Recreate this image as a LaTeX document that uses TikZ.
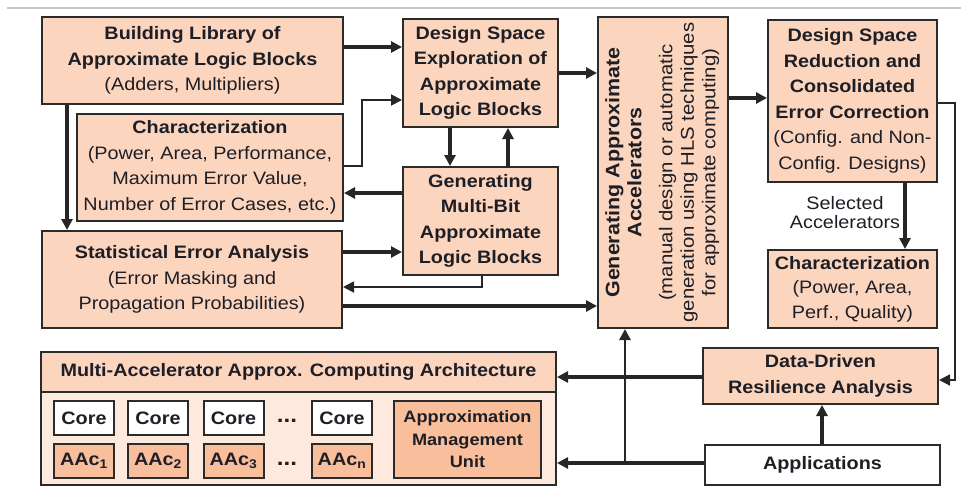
\documentclass[tikz,border=0pt]{standalone}
\usepackage{fontspec}
\setmainfont{Liberation Sans}[FakeStretch=1.1]
\usetikzlibrary{arrows.meta}
\definecolor{peach}{HTML}{FCD5BE}
\definecolor{peachlight}{HTML}{FDE9DE}
\definecolor{peachdark}{HTML}{F9BE9B}
\definecolor{edge}{HTML}{2B2B2B}
\definecolor{txt}{HTML}{1E1E26}
\definecolor{lnk}{HTML}{262626}
\begin{document}
\begin{tikzpicture}[x=1pt,y=-1pt,
  box/.style={draw=edge, line width=2pt, fill=peach, align=center, inner sep=0pt,
    text=txt, font=\fontsize{18}{25.5}\selectfont},
  corebox/.style={box, fill=white, minimum width=60, minimum height=34},
  aacbox/.style={box, fill=peachdark, minimum width=60, minimum height=34},
  arr/.style={line width=3.5pt, draw=lnk, -{Triangle[length=11pt,width=11pt]}},
  thinarr/.style={line width=1.8pt, draw=lnk, -{Triangle[length=11pt,width=11pt]}},
  lbl/.style={align=center, inner sep=0pt, text=txt, font=\fontsize{18}{19}\selectfont},
  dots/.style={inner sep=0pt, text=txt, font=\fontsize{22}{22}\selectfont\bfseries},
  topline/.style={draw=black!22, line width=2pt}]
\useasboundingbox (0,0) rectangle (961,487);
\draw[topline] (7,8) -- (961,8);

% left column
\node[box, minimum width=301, minimum height=87] (bl) at (192.5,60.5)
  {\textbf{Building Library of}\\\textbf{Approximate Logic Blocks}\\(Adders, Multipliers)};
\node[box, minimum width=266, minimum height=107] (charl) at (210,167.5)
  {\textbf{Characterization}\\(Power, Area, Performance,\\Maximum Error Value,\\Number of Error Cases, etc.)};
\node[box, minimum width=300, minimum height=97] (stat) at (192,279.5)
  {\textbf{Statistical Error Analysis}\\(Error Masking and\\Propagation Probabilities)};

% middle column
\node[box, minimum width=155, minimum height=108] (dse) at (480.5,73)
  {\textbf{Design Space}\\\textbf{Exploration of}\\\textbf{Approximate}\\\textbf{Logic Blocks}};
\node[box, minimum width=155, minimum height=108] (gmb) at (480.5,221)
  {\textbf{Generating}\\\textbf{Multi-Bit}\\\textbf{Approximate}\\\textbf{Logic Blocks}};

% tall box
\node[box, minimum width=130, minimum height=311] (tall) at (663,172.5)
  {\fontsize{18}{21.5}\selectfont\rotatebox{90}{\begin{tabular}{@{}c@{}}
   {\fontsize{19.5}{22}\selectfont\bfseries Generating Approximate}\\[0.5pt]
   {\fontsize{19.5}{22}\selectfont\bfseries Accelerators}\\[9.5pt]
   {\fontsize{18.5}{21.5}\selectfont (manual design or automatic}\\
   {\fontsize{18.5}{21.5}\selectfont generation using HLS techniques}\\
   {\fontsize{18.5}{21.5}\selectfont for approximate computing)}
  \end{tabular}}};

% right column
\node[box, minimum width=169, minimum height=162] (dsr) at (852.5,101)
  {\textbf{Design Space}\\\textbf{Reduction and}\\\textbf{Consolidated}\\\textbf{Error Correction}\\(Config. and Non-\\Config. Designs)};
\node[box, minimum width=169, minimum height=78, font=\fontsize{18}{24.5}\selectfont] (charr) at (852.5,289)
  {\textbf{Characterization}\\(Power, Area,\\Perf., Quality)};
\node[box, minimum width=235, minimum height=56] (dd) at (820.5,376)
  {\textbf{Data-Driven}\\\textbf{Resilience Analysis}};
\node[box, fill=white, minimum width=235, minimum height=40] (apps) at (822.5,465)
  {\textbf{Applications}};

% multi-accelerator architecture
\node[draw=edge, line width=2pt, fill=peachlight, minimum width=515, minimum height=133, inner sep=0pt] (ma) at (298.5,418.5) {};
\node[box, minimum width=515, minimum height=40] (mah) at (298.5,372)
  {\textbf{Multi-Accelerator Approx. Computing Architecture}};
\node[corebox] (c1) at (84,418) {\textbf{Core}};
\node[corebox] (c2) at (158,418) {\textbf{Core}};
\node[corebox] (c3) at (233.5,418) {\textbf{Core}};
\node[corebox] (c4) at (342,418) {\textbf{Core}};
\node[aacbox] (a1) at (84,461) {\textbf{AAc\textsubscript{1}}};
\node[aacbox] (a2) at (158,461) {\textbf{AAc\textsubscript{2}}};
\node[aacbox] (a3) at (233.5,461) {\textbf{AAc\textsubscript{3}}};
\node[aacbox] (a4) at (342,461) {\textbf{AAc\textsubscript{n}}};
\node[dots] (d1) at (287,421) {...};
\node[dots] (d2) at (287,464) {...};
\node[box, fill=peachdark, minimum width=147, minimum height=77, font=\fontsize{16.5}{22.5}\selectfont] (amu) at (467.5,439.5)
  {\textbf{Approximation}\\\textbf{Management}\\\textbf{Unit}};

% connectors
\draw[arr] (bl.east |- 0,47) -- (dse.west |- 0,47);
\draw[thinarr] (charl.east |- 0,166) -- (362,166) -- (362,100) -- (dse.west |- 0,100);
\draw[arr] (bl.south -| 67,0) -- (stat.north -| 67,0);
\draw[arr] (dse.south -| 450,0) -- (gmb.north -| 450,0);
\draw[arr] (gmb.north -| 508,0) -- (dse.south -| 508,0);
\draw[arr] (gmb.west |- 0,193) -- (charl.east |- 0,193);
\draw[arr] (stat.east |- 0,252) -- (gmb.west |- 0,252);
\draw[thinarr] (gmb.south -| 482,0) -- (482,287) -- (stat.east |- 0,287);
\draw[arr] (stat.east |- 0,306) -- (tall.west |- 0,306);
\draw[arr] (dse.east |- 0,73) -- (tall.west |- 0,73);
\draw[arr] (tall.east |- 0,98) -- (dsr.west |- 0,98);
\draw[thinarr] (dsr.east |- 0,103) -- (955,103) -- (955,380) -- (dd.east |- 0,380);
\draw[arr] (dsr.south -| 905,0) -- (charr.north -| 905,0);
\node[lbl] (sel) at (845,213) {Selected\\Accelerators};
\draw[arr] (dd.west |- 0,377) -- (ma.east |- 0,377);
\draw[arr] (apps.west |- 0,463) -- (ma.east |- 0,463);
\coordinate (j) at (625,463);
\draw[arr, line width=2.8pt] (j) -- (tall.south -| j);
\draw[arr] (apps.north -| 822,0) -- (dd.south -| 822,0);
\end{tikzpicture}
\end{document}
